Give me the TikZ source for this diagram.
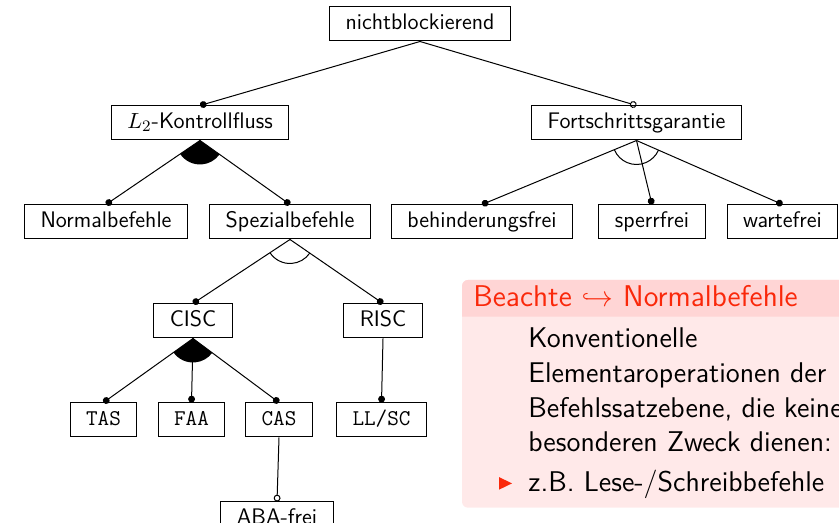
\documentclass[tikz,border=0pt]{standalone}
\usetikzlibrary{positioning,arrows.meta,calc}

\definecolor{alertred}{RGB}{250,40,10}
\definecolor{blocktitle}{RGB}{255,213,213}
\definecolor{blockbody}{RGB}{255,233,233}

% filled sector between the first and the last child edge
\newcommand{\orgroup}[3]{%
  \fill let \p1=($(#2.north)-(#1.south)$), \p2=($(#3.north)-(#1.south)$),
    \n1={atan2(\y1,\x1)}, \n2={atan2(\y2,\x2)} in
    (#1.south) -- ++(\n1:12pt) arc[start angle=\n1, end angle=\n2, radius=12pt] -- cycle;}
% open arc between the first and the last child edge
\newcommand{\altgroup}[3]{%
  \draw[line width=0.5pt] let \p1=($(#2.north)-(#1.south)$), \p2=($(#3.north)-(#1.south)$),
    \n1={atan2(\y1,\x1)}, \n2={atan2(\y2,\x2)} in
    (#1.south) ++(\n1:12pt) arc[start angle=\n1, end angle=\n2, radius=12pt];}

\begin{document}
\begin{tikzpicture}[x=1pt, y=1pt, node distance=32pt,
    feat/.style = {draw, line width=0.5pt, inner xsep=8pt, inner ysep=3.25pt,
      text height=8pt, text depth=2.5pt, font=\fontsize{11.25}{13.5}\selectfont\sffamily},
    mand/.style = {line width=0.5pt, -{Circle[length=3.4pt]}},
    opt/.style = {line width=0.5pt, -{Circle[open, length=3.4pt]}},
    blocktext/.style = {anchor=base west, inner sep=0pt, font=\fontsize{14.25}{17.3}\selectfont\sffamily}]
  \clip (0,0) rectangle (419.5,261.5);

  % feature tree
  \node[feat] (root) at (210,249.5) {nichtblockierend};
  \node[feat, below=of root, xshift=-110pt] (kontroll) {$L_2$-Kontrollfluss};
  \node[feat, below=of root, xshift=108.25pt] (fort) {Fortschrittsgarantie};
  \node[feat, below=of kontroll, xshift=-47pt] (normal) {Normalbefehle};
  \node[feat, below=of kontroll, xshift=45pt] (spezial) {Spezialbefehle};
  \node[feat, below=of fort, xshift=-77.25pt] (behind) {behinderungsfrei};
  \node[feat, below=of fort, xshift=7.75pt] (sperr) {sperrfrei};
  \node[feat, below=of fort, xshift=73pt] (warte) {wartefrei};
  \node[feat, below=of spezial, xshift=-48.5pt] (cisc) {CISC};
  \node[feat, below=of spezial, xshift=46.5pt] (risc) {RISC};
  \node[feat, below=of cisc, xshift=-44.75pt] (tas) {\texttt{TAS}};
  \node[feat, below=of cisc, xshift=-0.75pt] (faa) {\texttt{FAA}};
  \node[feat, below=of cisc, xshift=43pt] (cas) {\texttt{CAS}};
  \node[feat, below=of risc, xshift=-0.75pt] (llsc) {\texttt{LL/SC}};
  \node[feat, below=of cas, xshift=-1pt] (aba) {ABA-frei};

  \draw[mand] (root.south) -- (kontroll.north);
  \draw[opt] (root.south) -- (fort.north);
  \draw[mand] (kontroll.south) -- (normal.north);
  \draw[mand] (kontroll.south) -- (spezial.north);
  \orgroup{kontroll}{normal}{spezial}
  \foreach \child in {behind, sperr, warte}
    \draw[mand] (fort.south) -- (\child.north);
  \altgroup{fort}{behind}{warte}
  \draw[mand] (spezial.south) -- (cisc.north);
  \draw[mand] (spezial.south) -- (risc.north);
  \altgroup{spezial}{cisc}{risc}
  \foreach \child in {tas, faa, cas}
    \draw[mand] (cisc.south) -- (\child.north);
  \orgroup{cisc}{tas}{cas}
  \draw[mand] (risc.south) -- (llsc.north);
  \draw[opt] (cas.south) -- (aba.north);

  % block
  \fill[blockbody, rounded corners=3pt] (231,7.65) rectangle (470,121.5);
  \fill[blocktitle] (231,103.15) [rounded corners=3pt] -- (231,121.5) -- (470,121.5)
    [sharp corners] -- (470,103.15) -- cycle;
  \node[blocktext, text=alertred, font=\fontsize{15}{18}\selectfont\sffamily] (title)
    at (236.5,108.15) {Beachte $\hookrightarrow$ Normalbefehle};
  \foreach \txt [count=\i] in {Konventionelle, Elementaroperationen der,
      {Befehlssatzebene, die keinen}, besonderen Zweck dienen:}
    \node[blocktext] (line\i) at (264,87.5-17.3*\i+17.3) {\txt};
  \fill[alertred] (249.5,16.65) -- ++(0,6.3) -- ++(6.5,-3.15) -- cycle;
  \node[blocktext] (item) at (264,15.65) {z.B. Lese-/Schreibbefehle};
\end{tikzpicture}
\end{document}
